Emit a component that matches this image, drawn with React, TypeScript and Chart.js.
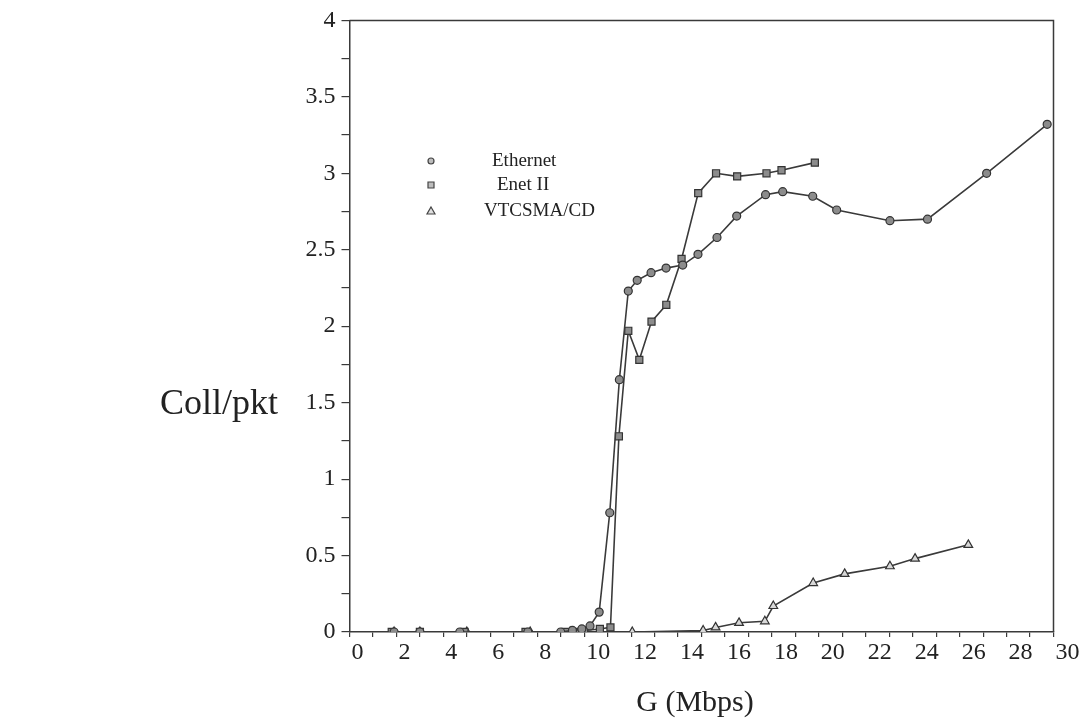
import React, { useEffect, useRef } from 'react';
import { Chart, registerables } from 'chart.js';

Chart.register(...registerables);

// ---- data ----
const ethernetX = [1.9, 3.0, 4.7, 7.6, 9.0, 9.5, 9.9, 10.25, 10.64, 11.09, 11.5, 11.88, 12.26, 12.85, 13.49, 14.2, 14.85, 15.66, 16.5, 17.73, 18.46, 19.74, 20.76, 23.03, 24.63, 27.15, 29.73];
const ethernetY = [0, 0, 0, 0, 0, 0.01, 0.02, 0.04, 0.13, 0.78, 1.65, 2.23, 2.3, 2.35, 2.38, 2.4, 2.47, 2.58, 2.72, 2.86, 2.88, 2.85, 2.76, 2.69, 2.7, 3.0, 3.32];

const enet2X = [1.8, 3.0, 4.9, 7.5, 9.2, 9.7, 10.0, 10.67, 11.12, 11.48, 11.88, 12.35, 12.87, 13.5, 14.15, 14.86, 15.62, 16.52, 17.77, 18.41, 19.83];
const enet2Y = [0, 0, 0, 0, 0, 0, 0.01, 0.02, 0.03, 1.28, 1.97, 1.78, 2.03, 2.14, 2.44, 2.87, 3.0, 2.98, 3.0, 3.02, 3.07];

const vtcsmaX = [1.9, 3.0, 5.0, 7.7, 9.4, 10.0, 10.7, 12.05, 15.07, 15.6, 16.6, 17.7, 18.06, 19.76, 21.1, 23.03, 24.1, 26.37];
const vtcsmaY = [0, 0, 0, 0, 0, 0, 0, 0, 0.01, 0.03, 0.06, 0.07, 0.17, 0.32, 0.38, 0.43, 0.48, 0.57];

const seriesNames = ['Ethernet', 'Enet II', 'VTCSMA/CD'];
const xTitle = 'G (Mbps)';
const yTitle = 'Coll/pkt';
const xMin = 0, xMax = 30, xStep = 1;
const yMin = 0, yMax = 4, yStep = 0.25;

const FONT = '"Liberation Serif", "Times New Roman", serif';
const INK = '#3a3a3a';
const MARK = '#8c8c8c';

export default function App() {
  const ref = useRef<HTMLCanvasElement>(null);

  useEffect(() => {
    document.body.style.margin = '0';
    const canvas = ref.current;
    if (!canvas) return;

    const pts = (xs: number[], ys: number[]) => xs.map((x, i) => ({ x, y: ys[i] }));

    const framePlugin = {
      id: 'frame',
      afterDraw(chart: any) {
        const { ctx, chartArea } = chart;
        const { left, top, right, bottom } = chartArea;
        ctx.save();
        ctx.strokeStyle = INK;
        ctx.lineWidth = 1.5;
        ctx.beginPath();
        ctx.moveTo(left, top);
        ctx.lineTo(right, top);
        ctx.lineTo(right, bottom);
        ctx.stroke();

        // y title, horizontal
        ctx.fillStyle = '#222';
        ctx.font = `36px ${FONT}`;
        ctx.textAlign = 'left';
        ctx.textBaseline = 'middle';
        ctx.fillText(yTitle, 160, 405);

        // x title
        ctx.font = `30px ${FONT}`;
        ctx.textAlign = 'center';
        ctx.fillText(xTitle, 695, 703);

        // legend
        const rows = [161, 185, 211];
        const textX = [492, 497, 484];
        ctx.font = `19px ${FONT}`;
        ctx.textAlign = 'left';
        rows.forEach((y, i) => {
          const mx = 431;
          ctx.beginPath();
          if (i === 0) ctx.arc(mx, y, 3, 0, Math.PI * 2);
          else if (i === 1) ctx.rect(mx - 3, y - 3, 6, 6);
          else {
            ctx.moveTo(mx, y - 4);
            ctx.lineTo(mx + 4, y + 3);
            ctx.lineTo(mx - 4, y + 3);
            ctx.closePath();
          }
          ctx.fillStyle = i === 2 ? '#e0e0e0' : '#bdbdbd';
          ctx.fill();
          ctx.lineWidth = 1.2;
          ctx.strokeStyle = '#444';
          ctx.stroke();
          ctx.fillStyle = '#222';
          ctx.fillText(seriesNames[i], textX[i], y);
        });
        ctx.restore();
      },
    };

    const common = {
      borderColor: INK,
      borderWidth: 1.6,
      pointBorderColor: '#333',
      pointBorderWidth: 1.2,
      pointBackgroundColor: MARK,
      tension: 0,
      fill: false,
    };

    const chart = new Chart(canvas, {
      type: 'line',
      data: {
        datasets: [
          { ...common, label: seriesNames[0], data: pts(ethernetX, ethernetY), pointStyle: 'circle', pointRadius: 4 },
          { ...common, label: seriesNames[1], data: pts(enet2X, enet2Y), pointStyle: 'rect', pointRadius: 5 },
          { ...common, label: seriesNames[2], data: pts(vtcsmaX, vtcsmaY), pointStyle: 'triangle', pointRadius: 5, pointBackgroundColor: '#d8d8d8' },
        ],
      },
      options: {
        responsive: false,
        animation: false,
        layout: { padding: { top: 17, right: 29.5, left: 0, bottom: 0 } },
        plugins: {
          legend: { display: false },
          tooltip: { enabled: false },
        },
        scales: {
          x: {
            type: 'linear',
            min: xMin,
            max: xMax,
            afterFit: (s: any) => { s.height = 90; },
            ticks: {
              stepSize: xStep,
              autoSkip: false,
              maxRotation: 0,
              align: 'start',
              labelOffset: 2,
              padding: 1,
              color: '#222',
              font: { family: FONT, size: 24 },
              callback: (v: any) => (Number(v) % 2 === 0 ? String(v) : ''),
            },
            grid: { drawOnChartArea: false, drawTicks: true, tickLength: 5, color: INK, lineWidth: 1.2 },
            border: { display: true, color: INK, width: 1.5 },
            title: { display: false, text: xTitle },
          },
          y: {
            type: 'linear',
            min: yMin,
            max: yMax,
            afterFit: (s: any) => { s.width = 349.5; },
            ticks: {
              stepSize: yStep,
              autoSkip: false,
              padding: 6,
              color: '#222',
              font: { family: FONT, size: 24 },
              callback: (v: any) => (Math.abs(Number(v) * 2 - Math.round(Number(v) * 2)) < 1e-9 ? String(v) : ''),
            },
            grid: { drawOnChartArea: false, drawTicks: true, tickLength: 8, color: INK, lineWidth: 1.2 },
            border: { display: true, color: INK, width: 1.5 },
            title: { display: false, text: yTitle },
          },
        },
      },
      plugins: [framePlugin],
    });

    return () => chart.destroy();
  }, []);

  return (
    <div style={{ width: 1083, height: 722, position: 'relative', background: '#fff' }}>
      <canvas ref={ref} width={1083} height={722} />
    </div>
  );
}
